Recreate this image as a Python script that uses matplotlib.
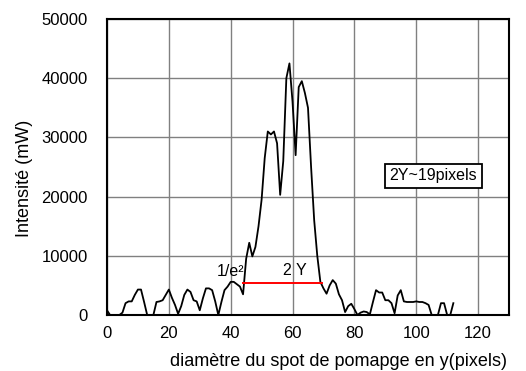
import matplotlib
matplotlib.use("Agg")
import matplotlib.pyplot as plt

# Intensity profile along y (one value per pixel)
pixels = list(range(0, 113))
intensity = [
    800, 0, 0, 0, 0, 400, 2000, 2300, 2300, 3400,
    4300, 4300, 2200, 0, 0, 0, 2200, 2300, 2500, 3400,
    4300, 2900, 1700, 200, 1500, 3400, 4300, 3900, 2500, 2300,
    800, 2800, 4500, 4500, 4200, 2300, 0, 2200, 4200, 4800,
    5600, 5600, 5200, 4800, 3500, 9500, 12200, 9900, 11500, 15000,
    19500, 26500, 31000, 30500, 31000, 29000, 20300, 26000, 40000, 42500,
    36000, 27000, 38500, 39500, 37500, 35000, 25000, 16000, 10000, 5600,
    4500, 3600, 5000, 5900, 5300, 3500, 2500, 500, 1500, 1900,
    1000, 0, 400, 600, 500, 100, 2200, 4200, 3800, 3800,
    2500, 2500, 2000, 300, 3300, 4200, 2300, 2200, 2200, 2200,
    2300, 2200, 2200, 2000, 1700, 0, 0, 0, 2000, 2000,
    0, 0, 2000,
]

# 1/e^2 width marker
width_x = [44, 69.4]
width_level = 5400

x_ticks = [0, 20, 40, 60, 80, 100, 120]
y_ticks = [0, 10000, 20000, 30000, 40000, 50000]

plt.rcParams['font.family'] = ['Liberation Sans', 'DejaVu Sans']

fig = plt.figure(figsize=(5.26, 3.71), dpi=100)
ax = fig.add_axes([0.2034, 0.1509, 0.7643, 0.7979])

ax.plot(pixels, intensity, color='black', lw=1.3, zorder=3)
ax.plot(width_x, [width_level, width_level], color='red', lw=1.4, zorder=4)

ax.set_xlim(0, 130)
ax.set_ylim(0, 50000)
ax.set_xticks(x_ticks)
ax.set_yticks(y_ticks)
ax.grid(True, color='#808080', lw=1.0)
ax.set_axisbelow(True)
ax.tick_params(length=0, labelsize=12)
ax.tick_params(axis='y', pad=14)
ax.tick_params(axis='x', pad=8)
for s in ax.spines.values():
    s.set_linewidth(1.5)
    s.set_color('black')

ax.set_xlabel('diamètre du spot de pomapge en y(pixels)', fontsize=13)
ax.xaxis.set_label_coords(0.575, -0.13)
ax.set_ylabel('Intensité (mW)', fontsize=13)
ax.yaxis.set_label_coords(-0.185, 0.46)

ax.text(39.8, 7400, '1/e²', ha='center', va='center', fontsize=11.5, zorder=5)
ax.text(60.8, 7600, '2 Y', ha='center', va='center', fontsize=11.5, zorder=5)
ax.text(105.6, 23500, '2Y~19pixels', ha='center', va='center', fontsize=11.5, zorder=5,
        bbox=dict(boxstyle='square,pad=0.3', fc='white', ec='black', lw=1.3))

fig.savefig('out.png', dpi=100)
